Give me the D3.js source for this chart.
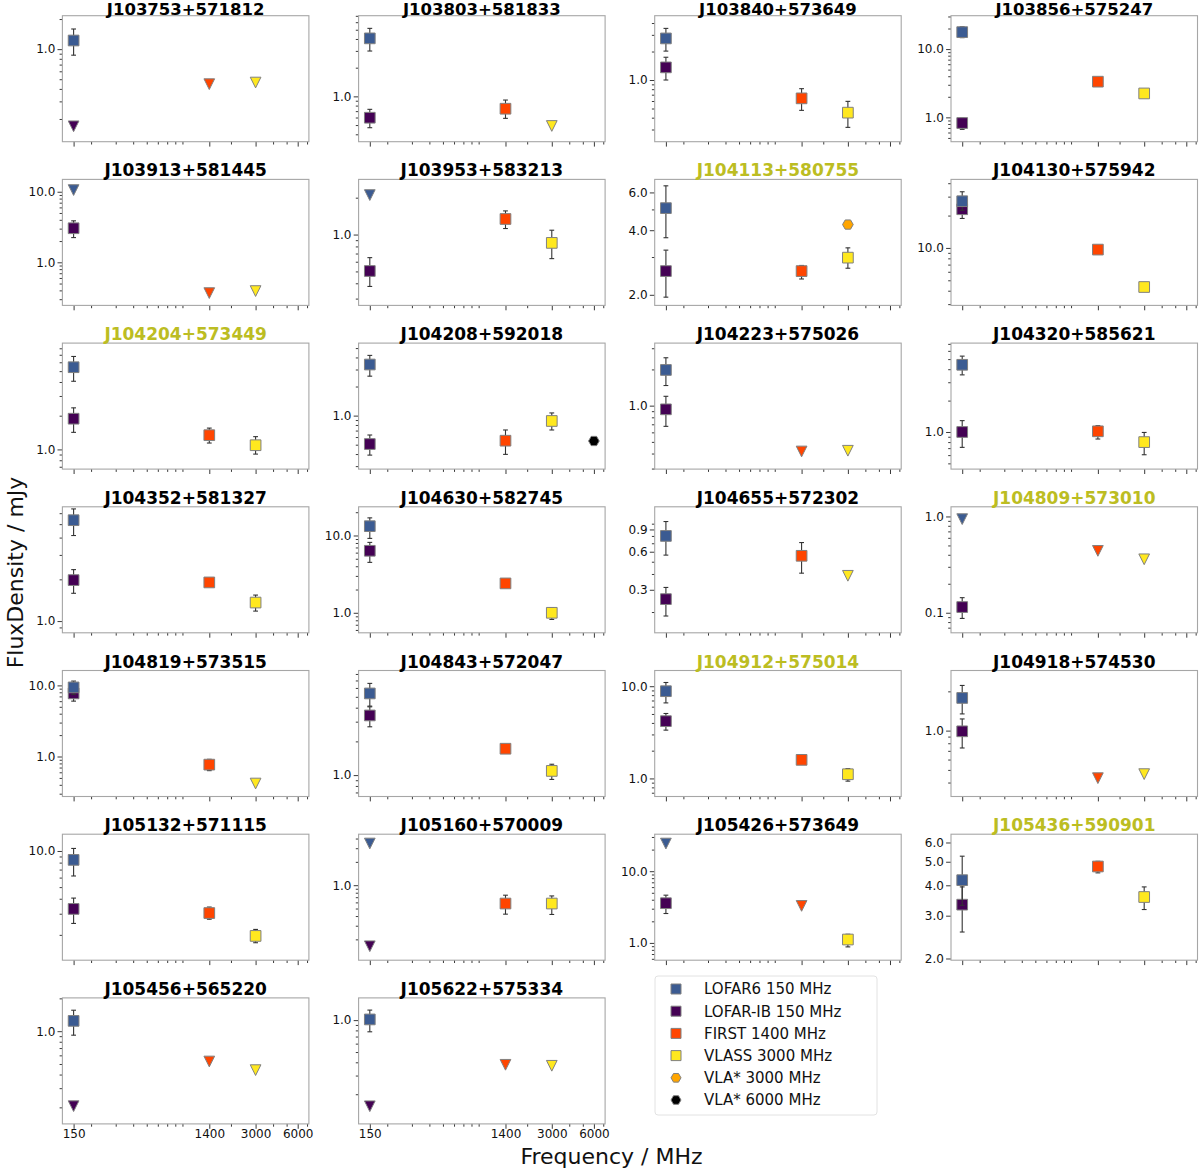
<!DOCTYPE html>
<html><head><meta charset="utf-8">
<script src="https://cdn.jsdelivr.net/npm/d3@7"></script>
<style>
body{margin:0;background:#fff}
svg{display:block}
text{font-family:"DejaVu Sans","Liberation Sans",sans-serif}
</style>
</head><body>
<svg id="chart" width="1200" height="1170"></svg>
<script>
// ---------------- DATA ----------------
const sources = [
 "J103753+571812","J103803+581833","J103840+573649","J103856+575247",
 "J103913+581445","J103953+583213","J104113+580755","J104130+575942",
 "J104204+573449","J104208+592018","J104223+575026","J104320+585621",
 "J104352+581327","J104630+582745","J104655+572302","J104809+573010",
 "J104819+573515","J104843+572047","J104912+575014","J104918+574530",
 "J105132+571115","J105160+570009","J105426+573649","J105436+590901",
 "J105456+565220","J105622+575334"
];
const highlightedSources = ["J104113+580755","J104204+573449","J104809+573010","J104912+575014","J105436+590901"];

const xTickValues = [150, 1400, 3000, 6000];

// y-axis view limits [low, high] in mJy, per source
const yLimits = [
 [0.1185,2.16],[0.3345,7.02],[0.223,4.78],[0.44,30.8],
 [0.245,14.96],[0.264,2.82],[1.785,6.9],[2.92,43.4],
 [0.667,8.9],[0.2795,5.63],[0.297,3.31],[0.4406,7.12],
 [0.823,6.67],[0.551,23.5],[0.137,1.36],[0.0619,1.26],
 [0.274,16.2],[0.644,8.59],[0.637,14.8],[0.3126,2.89],
 [1.23,13.8],[0.1077,4.55],[0.574,32.8],[1.968,6.49],
 [0.141,2.02],[0.105,1.62]
];
// labelled y ticks per source
const yTickLabels = [
 [1],[1],[1],[1,10],
 [1,10],[1],[2,4,6],[10],
 [1],[1],[1],[1],
 [1],[1,10],[0.3,0.6,0.9],[0.1,1],
 [1,10],[1],[1,10],[1],
 [10],[1],[1,10],[2,3,4,5,6],
 [1],[1]
];

// [flux, errorbar low, errorbar high, upper limit (1) or detection (0)]
const lofar6_150 = [
 [1.22,0.87,1.59,0],[4.06,2.99,5.17,0],[2.75,2.02,3.51,0],[17.7,14.7,21.2,0],
 [10.56,null,null,1],[2.10,null,null,1],[5.07,3.69,6.44,0],[27.2,22.4,33.3,0],
 [5.42,4.06,6.76,0],[3.38,2.56,4.2,0],[1.98,1.47,2.5,0],[4.41,3.53,5.34,0],
 [5.34,4.14,6.44,0],[13.2,9.17,16.9,0],[0.80,0.564,1.04,0],[0.938,null,null,1],
 [9.37,7.5,11.5,0],[5.36,4.13,6.59,0],[8.83,6.59,10.97,0],[1.78,1.343,2.22,0],
 [8.43,6.19,10.5,0],[3.45,null,null,1],[24.3,null,null,1],[4.2,3.31,5.27,0],
 [1.243,0.919,1.557,0],[1.015,0.776,1.243,0]
];
const lofarIB_150 = [
 [0.169,null,null,1],[0.597,0.469,0.731,0],[1.36,1.0,1.74,0],[0.826,0.667,0.97,0],
 [3.04,2.24,3.87,0],[0.504,0.377,0.648,0],[2.58,1.95,3.23,0],[22.9,18.8,26.0,0],
 [1.88,1.42,2.35,0],[0.508,0.39,0.63,0],[0.932,0.673,1.196,0],[1.0,0.712,1.285,0],
 [1.975,1.586,2.35,0],[6.34,4.49,8.14,0],[0.253,0.186,0.313,0],[0.1146,0.0873,0.1434,0],
 [7.72,6.01,9.5,0],[3.41,2.70,4.07,0],[4.18,3.34,5.06,0],[0.988,0.736,1.229,0],
 [3.29,2.49,4.05,0],[0.163,null,null,1],[3.58,2.57,4.63,0],[3.33,2.57,3.94,0],
 [0.205,null,null,1],[0.154,null,null,1]
];
const first_1400 = [
 [0.446,null,null,1],[0.742,0.588,0.915,0],[0.64,0.478,0.81,0],[3.33,3.13,3.53,0],
 [0.366,null,null,1],[1.34,1.12,1.56,0],[2.58,2.37,2.74,0],[9.65,9.2,10.1,0],
 [1.34,1.14,1.55,0],[0.55,0.397,0.71,0],[0.416,null,null,1],[1.015,0.856,1.15,0],
 [1.90,1.80,2.0,0],[2.40,2.25,2.55,0],[0.557,0.406,0.709,0],[0.439,null,null,1],
 [0.769,0.633,0.913,0],[1.72,1.62,1.82,0],[1.59,1.50,1.68,0],[0.432,null,null,1],
 [3.04,2.70,3.41,0],[0.58,0.423,0.743,0],[3.28,null,null,1],[4.78,4.5,5.02,0],
 [0.527,null,null,1],[0.379,null,null,1]
];
const vlass_3000 = [
 [0.463,null,null,1],[0.489,null,null,1],[0.452,0.316,0.595,0],[2.24,2.12,2.36,0],
 [0.391,null,null,1],[0.855,0.636,1.085,0],[2.98,2.66,3.31,0],[4.33,4.1,4.55,0],
 [1.09,0.908,1.30,0],[0.88,0.71,1.066,0],[0.422,null,null,1],[0.80,0.605,0.99,0],
 [1.36,1.18,1.54,0],[1.0,0.82,1.16,0],[0.387,null,null,1],[0.359,null,null,1],
 [0.417,null,null,1],[1.09,0.915,1.25,0],[1.11,0.935,1.28,0],[0.464,null,null,1],
 [1.96,1.72,2.22,0],[0.58,0.419,0.727,0],[1.115,0.88,1.32,0],[3.58,3.18,3.94,0],
 [0.439,null,null,1],[0.371,null,null,1]
];
const vla3000Sources = ["J104113+580755"];
const vla3000Flux = [4.25];
const vla6000Sources = ["J104208+592018"];
const vla6000Flux = [0.546];

// ---------------- STYLE / LAYOUT ----------------
const series = [
 {name:"LOFAR-IB 150 MHz", data:lofarIB_150, freq:150, color:"#440154"},
 {name:"LOFAR6 150 MHz", data:lofar6_150, freq:150, color:"#3b5b92"},
 {name:"FIRST 1400 MHz", data:first_1400, freq:1400, color:"#ff4500"},
 {name:"VLASS 3000 MHz", data:vlass_3000, freq:3000, color:"#ffe81f"}
];
const legendItems = [
 {name:"LOFAR6 150 MHz", color:"#3b5b92", shape:"s"},
 {name:"LOFAR-IB 150 MHz", color:"#440154", shape:"s"},
 {name:"FIRST 1400 MHz", color:"#ff4500", shape:"s"},
 {name:"VLASS 3000 MHz", color:"#ffe81f", shape:"s"},
 {name:"VLA* 3000 MHz", color:"#ffa500", shape:"h"},
 {name:"VLA* 6000 MHz", color:"#000000", shape:"h"}
];
const colX = [62.4, 358.6, 654.7, 951];
const rowY0 = 15.7, rowStep = 163.7, W = 246.5, H = 126;
const edge = "#808080";
const tickFont = 12;

const svg = d3.select("#chart");

function markerPath(shape, s){
  const h = s/2;
  if (shape === "s") return `M${-h},${-h}H${h}V${h}H${-h}Z`;
  if (shape === "v") return `M0,${h}L${-h},${-h}L${h},${-h}Z`;
  if (shape === "h") {
    const pts = d3.range(6).map(k => { const a = k*Math.PI/3; return [h*Math.cos(a), h*Math.sin(a)]; });
    return "M" + pts.map(p => p[0].toFixed(2)+","+p[1].toFixed(2)).join("L") + "Z";
  }
}

const x = d3.scaleLog()
  .domain([150/Math.pow(10,0.0801), 6000*Math.pow(10,0.0801)])
  .range([0, W]);
const xMinor = [200,300,400,500,600,700,800,900,2000,4000,5000,7000];

sources.forEach((src, i) => {
  const col = i % 4, row = Math.floor(i / 4);
  const g = svg.append("g").attr("transform", `translate(${colX[col]},${rowY0 + row*rowStep})`);
  const y = d3.scaleLog().domain(yLimits[i]).range([H, 0]);

  // x axis ticks
  const xa1 = g.append("g").attr("transform", `translate(0,${H})`)
    .call(d3.axisBottom(x).tickValues(xMinor).tickSize(2.8).tickFormat(""));
  const showX = (i >= 24);
  const xa2 = g.append("g").attr("transform", `translate(0,${H})`)
    .call(d3.axisBottom(x).tickValues(xTickValues).tickSize(4.9).tickPadding(1)
      .tickFormat(showX ? d3.format("d") : ""));
  [xa1, xa2].forEach(a => {
    a.select(".domain").remove();
    a.selectAll("line").attr("stroke", "#222").attr("stroke-width", 0.9);
    a.selectAll("text").attr("font-size", tickFont).attr("fill", "#111");
  });

  // y axis ticks
  const [lo, hi] = yLimits[i];
  const labels = yTickLabels[i];
  const isLabel = v => labels.some(l => Math.abs(l - v) / l < 1e-6);
  const minor = [];
  for (let n = Math.floor(Math.log10(lo)) - 1; n <= Math.ceil(Math.log10(hi)); n++) {
    for (let k = 1; k <= 9; k++) {
      const v = +(k * Math.pow(10, n)).toPrecision(6);
      if (v >= lo && v <= hi && !isLabel(v)) minor.push(v);
    }
  }
  const ya1 = g.append("g").call(d3.axisLeft(y).tickValues(minor).tickSize(2.8).tickFormat(""));
  const ya2 = g.append("g").call(d3.axisLeft(y).tickValues(labels).tickSize(4.9).tickPadding(2.2)
      .tickFormat(d3.format(".1f")));
  [ya1, ya2].forEach(a => {
    a.select(".domain").remove();
    a.selectAll("line").attr("stroke", "#222").attr("stroke-width", 0.9);
    a.selectAll("text").attr("font-size", tickFont).attr("fill", "#111");
  });

  // frame
  g.append("rect").attr("x", 0).attr("y", 0).attr("width", W).attr("height", H)
    .attr("fill", "none").attr("stroke", "#a6a6a6").attr("stroke-width", 1.1);

  // title (top row nudged/shrunk slightly so it stays inside the page)
  g.append("text").attr("x", W/2).attr("y", row === 0 ? -1.2 : -3).attr("text-anchor", "middle")
    .attr("font-size", row === 0 ? 16.5 : 17).attr("font-weight", "bold")
    .attr("fill", highlightedSources.includes(src) ? "#bcbd22" : "#000")
    .text(src);

  // data points
  const pts = g.append("g");
  function drawPoint(freq, d, color, shape) {
    const cx = x(freq), cy = y(d[0]);
    if (d[1] != null && d[2] != null) {
      const y1 = y(d[1]), y2 = y(d[2]);
      pts.append("line").attr("x1", cx).attr("x2", cx).attr("y1", y1).attr("y2", y2)
        .attr("stroke", "#333").attr("stroke-width", 1.1);
      [y1, y2].forEach(yy => pts.append("line").attr("x1", cx-2.4).attr("x2", cx+2.4)
        .attr("y1", yy).attr("y2", yy).attr("stroke", "#333").attr("stroke-width", 1.1));
    }
    pts.append("path").attr("d", markerPath(shape, 10.7))
      .attr("transform", `translate(${cx},${cy})`)
      .attr("fill", color).attr("stroke", edge).attr("stroke-width", 1);
  }
  series.forEach(s => {
    const d = s.data[i];
    if (!d) return;
    drawPoint(s.freq, d, s.color, d[3] ? "v" : "s");
  });
  vla3000Sources.forEach((n, k) => { if (n === src) drawPoint(3000, [vla3000Flux[k], null, null, 0], "#ffa500", "h"); });
  vla6000Sources.forEach((n, k) => { if (n === src) drawPoint(6000, [vla6000Flux[k], null, null, 0], "#000000", "h"); });
});

// axis labels
svg.append("text").attr("x", 611.5).attr("y", 1164).attr("text-anchor", "middle")
  .attr("font-size", 22).attr("fill", "#111").text("Frequency / MHz");
svg.append("text").attr("transform", "translate(22.5,572.5) rotate(-90)").attr("text-anchor", "middle")
  .attr("font-size", 22).attr("fill", "#111").text("FluxDensity / mJy");

// legend
const lg = svg.append("g");
lg.append("rect").attr("x", 655).attr("y", 976).attr("width", 222).attr("height", 139)
  .attr("rx", 3).attr("fill", "#fff").attr("stroke", "#e2e2e2").attr("stroke-width", 1);
const legendY = d3.scalePoint().domain(legendItems.map(d => d.name)).range([989, 1100]);
legendItems.forEach(it => {
  const yy = legendY(it.name);
  lg.append("path").attr("d", markerPath(it.shape, 10))
    .attr("transform", `translate(676,${yy})`)
    .attr("fill", it.color).attr("stroke", edge).attr("stroke-width", 1);
  lg.append("text").attr("x", 704).attr("y", yy).attr("dy", "0.36em")
    .attr("font-size", 15).attr("fill", "#111").text(it.name);
});
</script>
</body></html>
